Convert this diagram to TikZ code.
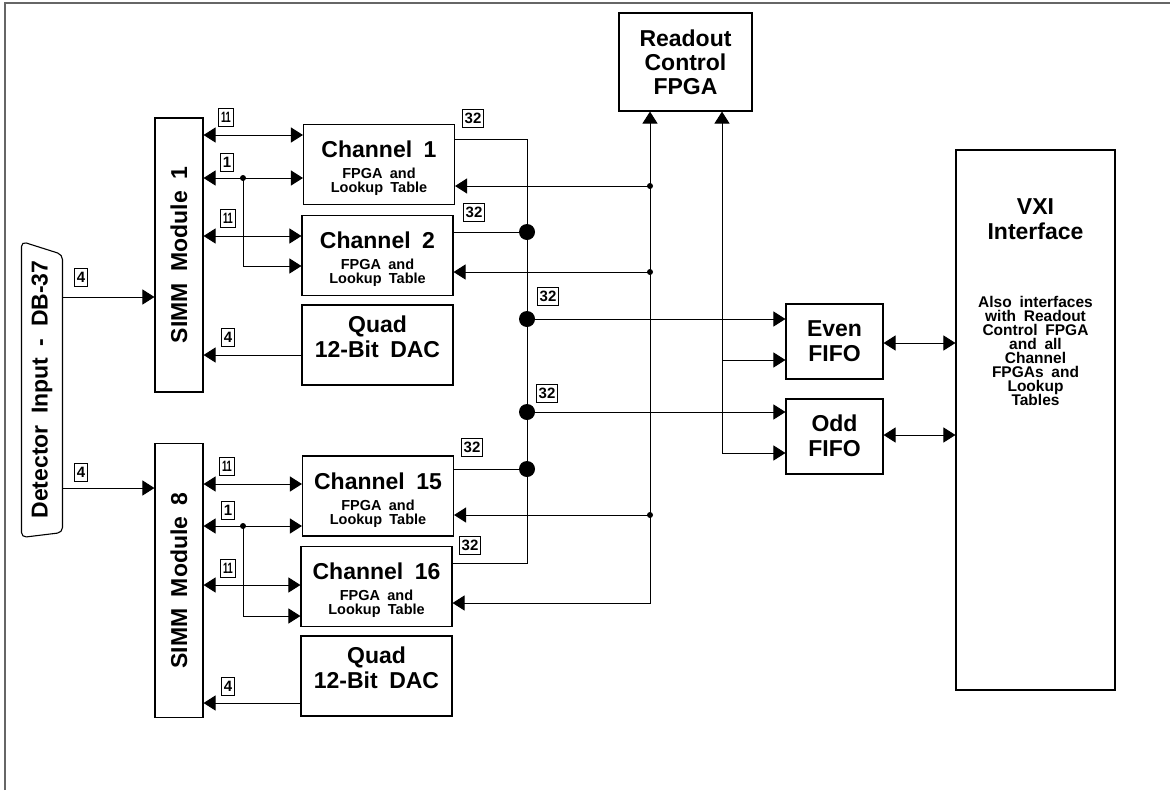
\documentclass[tikz,border=0pt]{standalone}
\usepackage{fontspec}
\setmainfont{Liberation Sans}[WordSpace=1.8]
\usetikzlibrary{arrows.meta}
\begin{document}
\begin{tikzpicture}[x=1pt,y=-1pt,
  line width=1pt,
  >={Triangle[length=12pt,width=15pt]},
  blk/.style={draw, line width=1.1pt, inner sep=0pt},
  big/.style={font=\bfseries\fontsize{23}{25}\selectfont, inner sep=0pt},
  small/.style={font=\bfseries\fontsize{14.5}{14}\selectfont, inner sep=0pt},
  vsmall/.style={font=\bfseries\fontsize{15.5}{14}\selectfont, inner sep=0pt},
  tag/.style={draw, line width=0.8pt, font=\bfseries\fontsize{15}{15}\selectfont, inner xsep=2.3pt, inner ysep=0pt, minimum height=18pt, minimum width=13pt},
  bigdot/.style={circle, fill, inner sep=0pt, minimum size=16pt},
  smalldot/.style={circle, fill, inner sep=0pt, minimum size=6pt},
  chbox/.style={blk, minimum width=151pt, minimum height=80pt},
  simmbox/.style={blk, minimum width=48pt, minimum height=274pt}]
\useasboundingbox (0,0) rectangle (1170,790);
\draw[line width=2pt, black!60] (5,790) -- (5,3) -- (1170,3);

% detector connector
\node[minimum width=40pt, minimum height=295pt, inner sep=0pt] (db) at (42,389.5) {};
\draw[line width=1.1pt, rounded corners=5pt] (db.north west) -- ([yshift=-13pt]db.north east) -- ([yshift=5pt]db.south east) -- (db.south west) -- cycle;
\node[big, rotate=90] (dbtext) at (db.center) {Detector Input - DB-37};

% SIMM modules
\node[simmbox] (simm1) at (179,255) {};
\node[big, rotate=90] (simm1t) at (simm1.center) {SIMM Module 1};
\node[simmbox] (simm8) at (179,580.5) {};
\node[big, rotate=90] (simm8t) at (simm8.center) {SIMM Module 8};

% channel boxes
\node[chbox] (ch1) at (379,164.5) {};
\node[chbox] (ch2) at (377.5,255.5) {};
\node[chbox] (dac1) at (377.5,345) {};
\node[chbox] (ch15) at (378,496) {};
\node[chbox] (ch16) at (376.5,586.5) {};
\node[chbox] (dac8) at (376.5,676) {};

\foreach \c/\n in {ch1/1, ch2/2, ch15/15, ch16/16}{
  \node[big, anchor=base] (\c a) at ([yshift=-34pt]\c.north) {Channel \n};
  \node[small, anchor=base] (\c b) at ([yshift=-55pt]\c.north) {FPGA and};
  \node[small, anchor=base] (\c c) at ([yshift=-69pt]\c.north) {Lookup Table};
}
\foreach \c in {dac1, dac8}{
  \node[big, anchor=base] (\c a) at ([yshift=-28pt]\c.north) {Quad};
  \node[big, anchor=base] (\c b) at ([yshift=-53pt]\c.north) {12-Bit DAC};
}

% readout
\node[blk, minimum width=133pt, minimum height=98pt] (readout) at (685.5,62) {};
\node[big, anchor=base] (ra) at ([yshift=-34pt]readout.north) {Readout};
\node[big, anchor=base] (rb) at ([yshift=-58pt]readout.north) {Control};
\node[big, anchor=base] (rc) at ([yshift=-82pt]readout.north) {FPGA};

% FIFOs
\node[blk, minimum width=97pt, minimum height=75pt] (even) at (834.5,341.5) {};
\node[big, anchor=base] (ea) at ([yshift=-33pt]even.north) {Even};
\node[big, anchor=base] (eb) at ([yshift=-58pt]even.north) {FIFO};
\node[blk, minimum width=97pt, minimum height=75pt] (odd) at (834.5,436.5) {};
\node[big, anchor=base] (oa) at ([yshift=-33pt]odd.north) {Odd};
\node[big, anchor=base] (ob) at ([yshift=-58pt]odd.north) {FIFO};

% VXI
\node[blk, minimum width=159pt, minimum height=540pt] (vxi) at (1035.5,420) {};
\node[big, anchor=base] (va) at ([yshift=-65pt]vxi.north) {VXI};
\node[big, anchor=base] (vb) at ([yshift=-90pt]vxi.north) {Interface};
\foreach \t [count=\i from 0] in {Also interfaces, with Readout, Control FPGA, and all, Channel, FPGAs and, Lookup, Tables}{
  \node[vsmall, anchor=base] (vs\i) at ([yshift=-158pt-14pt*\i]vxi.north) {\t};
}

% detector to SIMM
\draw[->] (db.east |- 0,297) -- (simm1.west |- 0,297);
\draw[->] (db.east |- 0,488) -- (simm8.west |- 0,488);

% SIMM 1 links
\draw[<->] (simm1.east |- 0,135) -- (ch1.west |- 0,135);
\draw[<->] (simm1.east |- 0,178) -- (ch1.west |- 0,178);
\node[smalldot] (d1) at (243,178) {};
\draw[->] (d1.center) |- (ch2.west |- 0,266);
\draw[<->] (simm1.east |- 0,236) -- (ch2.west |- 0,236);
\draw[->] (dac1.west |- 0,355) -- (simm1.east |- 0,355);

% SIMM 8 links
\draw[<->] (simm8.east |- 0,484) -- (ch15.west |- 0,484);
\draw[<->] (simm8.east |- 0,526) -- (ch15.west |- 0,526);
\node[smalldot] (d8) at (243,526) {};
\draw[->] (d8.center) |- (ch16.west |- 0,616);
\draw[<->] (simm8.east |- 0,585) -- (ch16.west |- 0,585);
\draw[->] (dac8.west |- 0,703) -- (simm8.east |- 0,703);

% tags
\node[tag] (g1) at (81,277) {4};
\node[tag] (g2) at (81,472) {4};
\node[tag] (g3) at (226,117) {\scalebox{0.62}[1]{11}};
\node[tag] (g4) at (227,162) {1};
\node[tag] (g5) at (228,218) {\scalebox{0.62}[1]{11}};
\node[tag] (g6) at (228,337) {4};
\node[tag] (g7) at (227,466) {\scalebox{0.62}[1]{11}};
\node[tag] (g8) at (228,510) {1};
\node[tag] (g9) at (228,568) {\scalebox{0.62}[1]{11}};
\node[tag] (g10) at (228,686) {4};
\node[tag] (g11) at (473,118) {32};
\node[tag] (g12) at (474,212) {32};
\node[tag] (g13) at (548,296) {32};
\node[tag] (g14) at (547,393) {32};
\node[tag] (g15) at (472,447) {32};
\node[tag] (g16) at (470,545) {32};

% 32-bit bus
\coordinate (bustop) at (527,139);
\coordinate (busbot) at (527,563);
\draw (ch1.east |- bustop) -- (bustop) -- (busbot) -- (ch16.east |- busbot);
\node[bigdot] (j2) at (527,232) {};
\draw (ch2.east |- j2) -- (j2.center);
\node[bigdot] (j15) at (527,469) {};
\draw (ch15.east |- j15) -- (j15.center);
\node[bigdot] (je) at (527,319) {};
\draw[->] (je.center) -- (even.west |- je);
\node[bigdot] (jo) at (527,412) {};
\draw[->] (jo.center) -- (odd.west |- jo);

% readout control lines
\coordinate (r1) at (650,603);
\draw[<->] (readout.south -| r1) -- (r1) -- (ch16.east |- r1);
\node[smalldot] (f1) at (650,186) {};
\draw[->] (f1.center) -- (ch1.east |- f1);
\node[smalldot] (f2) at (650,272) {};
\draw[->] (f2.center) -- (ch2.east |- f2);
\node[smalldot] (f15) at (650,515) {};
\draw[->] (f15.center) -- (ch15.east |- f15);

\coordinate (r2) at (722,453);
\draw[<->] (readout.south -| r2) -- (r2) -- (odd.west |- r2);
\coordinate (r3) at (722,360);
\draw[->] (r3) -- (even.west |- r3);

% FIFO to VXI
\draw[<->] (even.east |- 0,343) -- (vxi.west |- 0,343);
\draw[<->] (odd.east |- 0,435) -- (vxi.west |- 0,435);
\end{tikzpicture}
\end{document}
